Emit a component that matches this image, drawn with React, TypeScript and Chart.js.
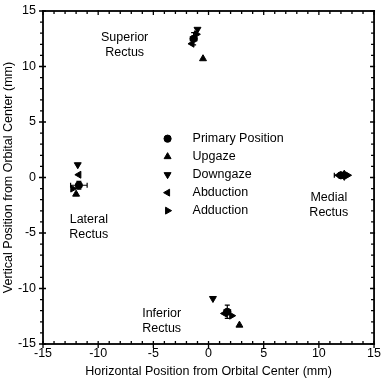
import React, { useEffect, useRef } from "react";
import { Chart, registerables } from "chart.js";
import { drawPoint } from "chart.js/helpers";

Chart.register(...registerables);

// Muscles (order of points in each series)
const muscles = ["Superior Rectus", "Lateral Rectus", "Medial Rectus", "Inferior Rectus"];

// Series values, one point per muscle: [x, y] in mm
const primaryX = [-1.35, -11.75, 12.0, 1.7];
const primaryY = [12.5, -0.7, 0.2, -12.1];
const primaryXErr = [0.3, 0.75, 0.6, 0.3];
const primaryYErr = [0.55, 0.35, 0.2, 0.6];

const upgazeX = [-0.5, -12.0, 12.3, 2.8];
const upgazeY = [10.7, -1.5, 0.3, -13.3];

const downgazeX = [-1.0, -11.85, 12.3, 0.4];
const downgazeY = [13.35, 1.15, 0.1, -10.9];

const abductionX = [-1.5, -11.75, 11.8, 1.45];
const abductionY = [12.05, 0.25, 0.2, -12.25];

const adductionX = [-1.1, -12.3, 12.6, 2.1];
const adductionY = [12.9, -1.0, 0.2, -12.45];

const seriesNames = ["Primary Position", "Upgaze", "Downgaze", "Abduction", "Adduction"];

// Muscle text labels: centre in data coords
const labelLines = [["Superior", "Rectus"], ["Lateral", "Rectus"], ["Medial", "Rectus"], ["Inferior", "Rectus"]];
const labelX = [-7.6, -10.85, 10.9, -4.25];
const labelY = [11.92, -4.45, -2.45, -12.9];

// Axis
const axisMin = -15;
const axisMax = 15;
const xTitle = "Horizontal Position from Orbital Center (mm)";
const yTitle = "Vertical Position from Orbital Center (mm)";

const FONT = "'Liberation Sans', Arial, Helvetica, sans-serif";
const FS = 12.5;

const toPts = (xs: number[], ys: number[]) => xs.map((x, i) => ({ x, y: ys[i] }));

const styles = [
  { pointStyle: "circle", rotation: 0, radius: 3.6 },
  { pointStyle: "triangle", rotation: 0, radius: 4 },
  { pointStyle: "triangle", rotation: 180, radius: 4 },
  { pointStyle: "triangle", rotation: 270, radius: 4 },
  { pointStyle: "triangle", rotation: 90, radius: 4 },
];

const framePlugin = {
  id: "frame",
  afterDraw(chart: any) {
    const { ctx, chartArea: a, scales } = chart;
    const xs = scales.x;
    const ys = scales.y;
    ctx.save();
    ctx.strokeStyle = "#000";
    ctx.lineWidth = 1.8;
    ctx.strokeRect(a.left, a.top, a.right - a.left, a.bottom - a.top);
    ctx.lineWidth = 1.3;
    ctx.beginPath();
    for (let v = axisMin; v <= axisMax; v++) {
      const major = v % 5 === 0;
      const px = xs.getPixelForValue(v);
      const py = ys.getPixelForValue(v);
      if (major) {
        ctx.moveTo(px, a.bottom + 4); ctx.lineTo(px, a.bottom - 3);
        ctx.moveTo(px, a.top - 1); ctx.lineTo(px, a.top + 4);
        ctx.moveTo(a.left - 4, py); ctx.lineTo(a.left + 3, py);
        ctx.moveTo(a.right + 1, py); ctx.lineTo(a.right - 4, py);
      } else {
        ctx.moveTo(px, a.bottom); ctx.lineTo(px, a.bottom - 3);
        ctx.moveTo(px, a.top); ctx.lineTo(px, a.top + 3);
        ctx.moveTo(a.left, py); ctx.lineTo(a.left - 3, py);
        ctx.moveTo(a.right, py); ctx.lineTo(a.right - 3, py);
      }
    }
    ctx.stroke();
    ctx.restore();
  },
};

const errorPlugin = {
  id: "errbars",
  afterDatasetsDraw(chart: any) {
    const { ctx, scales } = chart;
    const xs = scales.x;
    const ys = scales.y;
    ctx.save();
    ctx.strokeStyle = "#000";
    ctx.lineWidth = 1.2;
    ctx.beginPath();
    primaryX.forEach((x, i) => {
      const y = primaryY[i];
      const cx = xs.getPixelForValue(x);
      const cy = ys.getPixelForValue(y);
      const x0 = xs.getPixelForValue(x - primaryXErr[i]);
      const x1 = xs.getPixelForValue(x + primaryXErr[i]);
      const y0 = ys.getPixelForValue(y - primaryYErr[i]);
      const y1 = ys.getPixelForValue(y + primaryYErr[i]);
      ctx.moveTo(x0, cy); ctx.lineTo(x1, cy);
      ctx.moveTo(x0, cy - 2.5); ctx.lineTo(x0, cy + 2.5);
      ctx.moveTo(x1, cy - 2.5); ctx.lineTo(x1, cy + 2.5);
      ctx.moveTo(cx, y0); ctx.lineTo(cx, y1);
      ctx.moveTo(cx - 2.5, y0); ctx.lineTo(cx + 2.5, y0);
      ctx.moveTo(cx - 2.5, y1); ctx.lineTo(cx + 2.5, y1);
    });
    ctx.stroke();
    ctx.restore();
  },
};

const textPlugin = {
  id: "texts",
  afterDraw(chart: any) {
    const { ctx, scales } = chart;
    const xs = scales.x;
    const ys = scales.y;
    ctx.save();
    ctx.fillStyle = "#000";
    ctx.strokeStyle = "#000";
    ctx.font = `${FS}px ${FONT}`;
    ctx.textBaseline = "middle";
    ctx.textAlign = "center";
    const lh = 15;
    labelLines.forEach((lines, i) => {
      const cx = xs.getPixelForValue(labelX[i]);
      const cy = ys.getPixelForValue(labelY[i]);
      lines.forEach((t, j) => {
        ctx.fillText(t, cx, cy + (j - (lines.length - 1) / 2) * lh);
      });
    });
    // legend
    const lx = xs.getPixelForValue(-3.71);
    const ly = ys.getPixelForValue(3.5);
    ctx.textAlign = "left";
    seriesNames.forEach((name, i) => {
      const y = ly + i * 18;
      drawPoint(ctx, { ...styles[i], borderWidth: 1 } as any, lx, y);
      ctx.fillStyle = "#000";
      ctx.fillText(name, lx + 25, y);
    });
    ctx.restore();
  },
};

export default function App() {
  const ref = useRef<HTMLCanvasElement | null>(null);
  useEffect(() => {
    document.body.style.margin = "0";
    const canvas = ref.current!;
    const seriesPts = [
      toPts(primaryX, primaryY),
      toPts(upgazeX, upgazeY),
      toPts(downgazeX, downgazeY),
      toPts(abductionX, abductionY),
      toPts(adductionX, adductionY),
    ];
    const chart = new Chart(canvas, {
      type: "scatter",
      data: {
        datasets: seriesNames.map((name, i) => ({
          label: name,
          data: seriesPts[i],
          backgroundColor: "#000",
          borderColor: "#000",
          borderWidth: 1,
          pointStyle: styles[i].pointStyle as any,
          rotation: styles[i].rotation,
          pointRadius: styles[i].radius,
        })),
      },
      options: {
        responsive: false,
        animation: false,
        layout: { autoPadding: false, padding: { left: 1, top: 11, right: 8, bottom: 1 } },
        plugins: { legend: { display: false }, tooltip: { enabled: false } },
        scales: {
          x: {
            type: "linear",
            min: axisMin,
            max: axisMax,
            ticks: { stepSize: 5, color: "#000", font: { family: FONT, size: FS }, padding: 2, maxRotation: 0 },
            grid: { display: false, drawTicks: false },
            border: { display: false },
            title: { display: true, text: xTitle, color: "#000", font: { family: FONT, size: FS }, padding: 0 },
            afterFit: (s: any) => { s.height = 35; },
          },
          y: {
            type: "linear",
            min: axisMin,
            max: axisMax,
            ticks: { stepSize: 5, color: "#000", font: { family: FONT, size: FS }, padding: 2 },
            grid: { display: false, drawTicks: true, tickLength: 5 },
            border: { display: false },
            title: { display: true, text: yTitle, color: "#000", font: { family: FONT, size: FS }, padding: 0 },
            afterFit: (s: any) => { s.width = 42; },
          },
        },
      },
      plugins: [errorPlugin, framePlugin, textPlugin],
    });
    return () => chart.destroy();
  }, []);
  return <canvas ref={ref} width={383} height={380} style={{ display: "block" }} />;
}
